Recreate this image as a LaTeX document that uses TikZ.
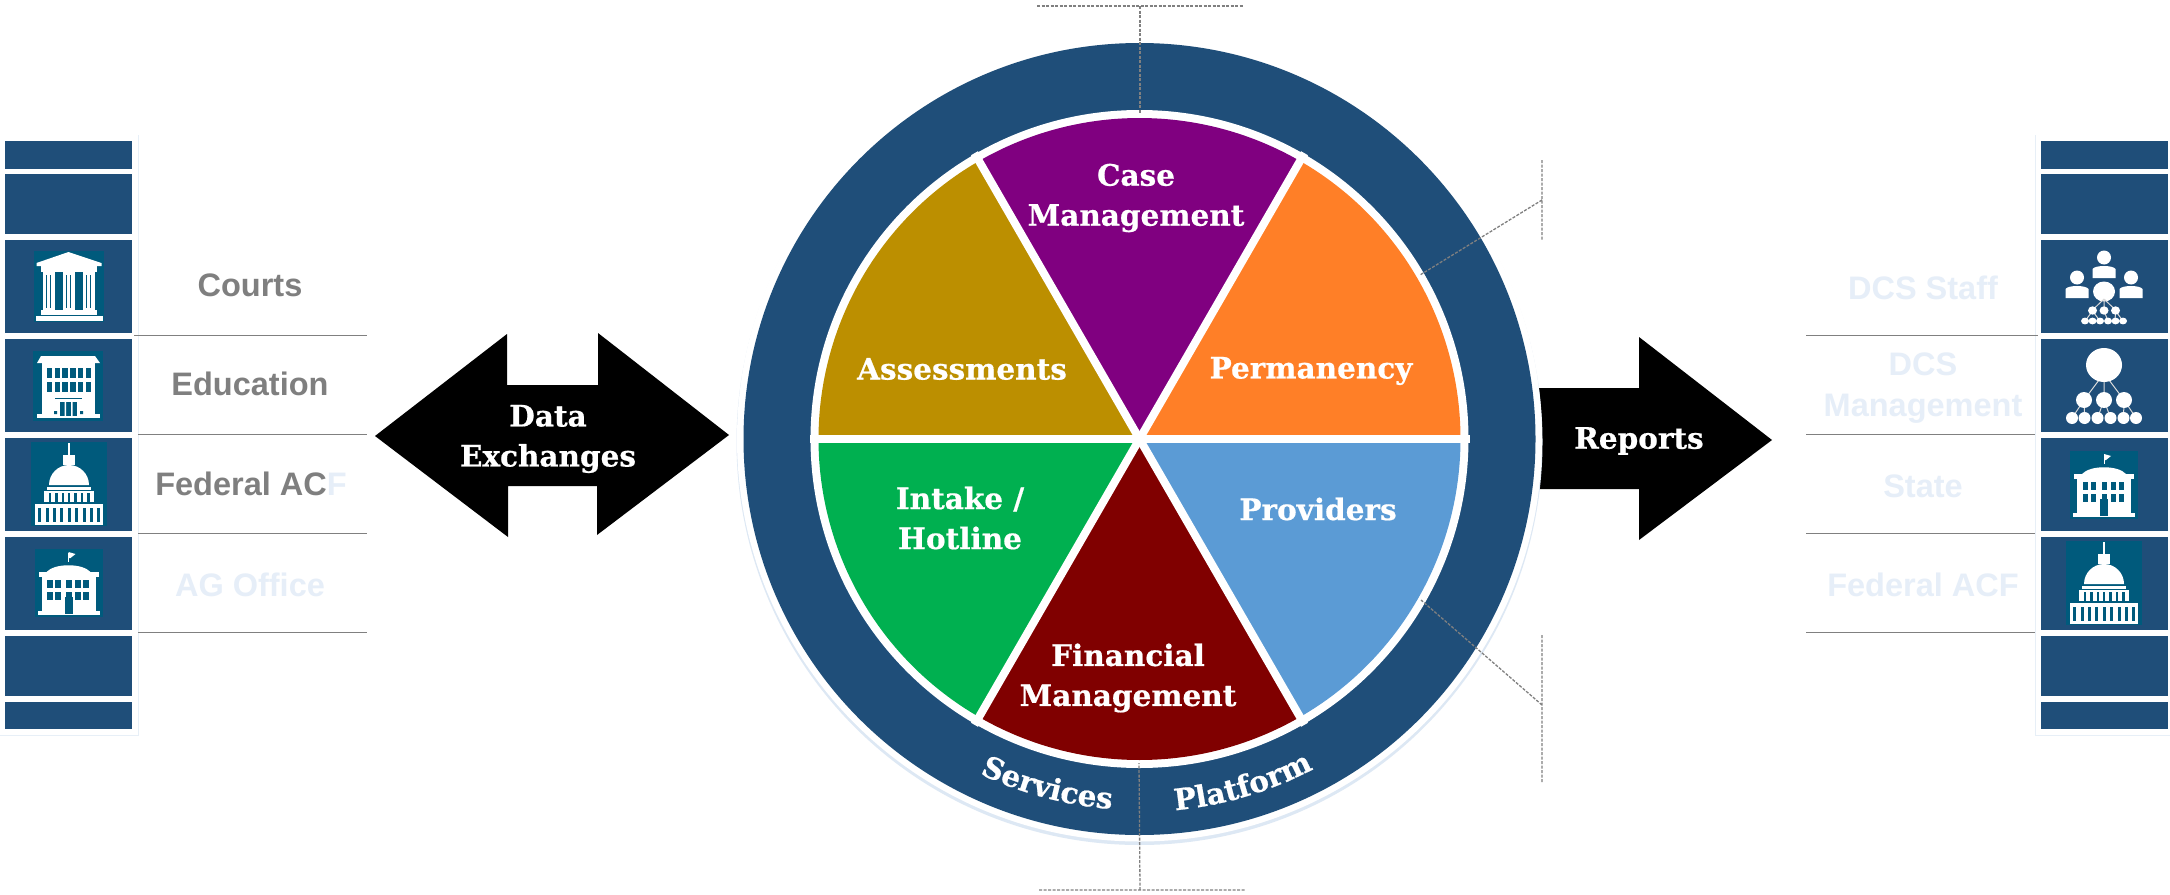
\documentclass[tikz,border=0pt]{standalone}
\usepackage{fontspec}
\setmainfont{Liberation Sans}
\newfontfamily\slab{DejaVu Serif}[BoldFeatures={FakeBold=0.6}]
\usetikzlibrary{decorations.text,calc}
\definecolor{ringblue}{HTML}{1F4E79}
\definecolor{teal}{HTML}{005A7C}
\definecolor{halo}{HTML}{DDE8F4}
\definecolor{labgrey}{HTML}{7F7F7F}
\definecolor{pale}{HTML}{E6EEF8}
\definecolor{linegrey}{HTML}{808080}
\definecolor{cpurple}{HTML}{800080}
\definecolor{corange}{HTML}{FF7F27}
\definecolor{cgold}{HTML}{BC8F00}
\definecolor{cgreen}{HTML}{00B050}
\definecolor{cmaroon}{HTML}{800000}
\definecolor{cblue}{HTML}{5B9BD5}
\tikzset{
  bar/.style={fill=ringblue,draw=none},
  rule/.style={draw=linegrey,line width=1pt},
  lab/.style={font=\fontsize{32.5}{41}\selectfont\bfseries,text=labgrey,inner sep=0pt,align=center},
  plab/.style={lab,text=pale},
  slabtxt/.style={font=\slab\fontsize{29.5}{40}\selectfont\bfseries,text=white,inner sep=0pt,align=center},
  dotline/.style={draw=linegrey,line width=1.3pt,dash pattern=on 3pt off 1.5pt},
  wg/.style={fill=white,draw=none},
  tg/.style={fill=teal,draw=none},
  link/.style={draw=white!85!black,line width=1pt},
}
\newcommand{\iconCourt}{%
  \fill[tg] (-35,-35) rectangle (35,36);
  \fill[wg] (-32,-23)--(0,-34)--(33,-23)--(33,-20)--(-32,-20)--cycle;
  \fill[wg] (-28,-20) rectangle (28,-14);
  \foreach \c in {-20,0,20}{
    \fill[wg] (\c-6,-15) rectangle (\c+6,24);
    \draw[teal,line width=1pt] (\c-2,-11)--(\c-2,22) (\c+2,-11)--(\c+2,22);
  }
  \fill[wg] (-28,24) rectangle (28,29);
  \fill[wg] (-33,30) rectangle (34,35);
}
\newcommand{\iconSchool}{%
  \fill[tg] (-35,-35) rectangle (35,35);
  \fill[wg] (-27,-30)--(27,-30)--(32,-23)--(-31,-23)--cycle;
  \fill[wg] (-26,-23) rectangle (27,29);
  \fill[wg] (-31,28) rectangle (32,32);
  \foreach \i in {0,...,5}{
    \fill[tg] (-21+7.7*\i,-18) rectangle ++(5.4,10);
    \fill[tg] (-21+7.7*\i,-4) rectangle ++(5.4,10);
  }
  \fill[tg] (-13,12) rectangle (14,13);
  \fill[tg] (-8,16) rectangle (9,30);
  \fill[wg] (-3.5,16) rectangle (-2,30) (3,16) rectangle (4.5,30);
  \fill[tg] (-14,25) rectangle (-11,28) (12,25) rectangle (15,28);
}
\newcommand{\iconCapitol}{%
  \fill[tg] (-38,-42) rectangle (38,42);
  \fill[wg] (-1,-41) rectangle (1,-29);
  \fill[wg] (-6,-29) rectangle (6,-19);
  \fill[wg] (-20,1) arc (180:360:20 and 20) -- cycle;
  \fill[wg] (-22,3) rectangle (22,6);
  \fill[wg] (-25,7) rectangle (25,18);
  \foreach \i in {-3,...,3} \fill[tg] (\i*6.4-1,9) rectangle ++(2.4,9);
  \fill[wg] (-34,20) rectangle (34,41);
  \foreach \i in {-4,...,4} \fill[tg] (\i*7.4-1.2,24) rectangle ++(3,14);
}
\newcommand{\iconState}{%
  \fill[tg] (-34,-34) rectangle (34,34);
  \draw[white,line width=1pt] (0,-30)--(0,-21);
  \fill[wg] (0,-31)--(7,-29)--(2,-25)--(0,-25)--cycle;
  \fill[wg] (-22,-11) .. controls (-14,-20) and (14,-20) .. (22,-11) -- cycle;
  \fill[wg] (-30,-11) rectangle (30,-6);
  \fill[wg] (-27,-6) rectangle (27,28);
  \fill[wg] (-31,28) rectangle (31,32);
  \foreach \x in {-21.5,-13.5,-2.5,6.5,14.5}{
    \fill[tg] (\x,-3) rectangle ++(5.5,8);
    \fill[tg] (\x,9) rectangle ++(5.5,8);
  }
  \fill[tg] (-4,14) rectangle (4,31);
}
\newcommand{\iconPeople}{%
  \foreach \x/\y in {0/0,-27/20,27/20}{
    \fill[wg] (\x,-29.5+\y) circle (7);
    \fill[wg] (\x-11.5,-9+\y) -- (\x-11.5,-18+\y) .. controls (\x-9,-22+\y) and (\x+9,-22+\y) .. (\x+11.5,-18+\y) -- (\x+11.5,-9+\y) -- cycle;
  }
  \fill[wg] (0,4.5) ellipse (11 and 10);
  \draw[link] (0,12)--(-11.5,23) (0,12)--(0,23) (0,12)--(11.5,23);
  \draw[link] (-11.5,24)--(-19,34) (-11.5,24)--(-4,34) (0,24)--(4,34) (11.5,24)--(11,34) (11.5,24)--(19,34);
  \foreach \x in {-11.5,0,11.5} \fill[wg] (\x,23.5) ellipse (4.5 and 4.2);
  \foreach \x in {-19,-11.5,-4,4,11.5,19} \fill[wg] (\x,34) ellipse (4 and 3.4);
}
\newcommand{\iconOrg}{%
  \draw[link] (-2,-10)--(-20,14) (0,-10)--(0,14) (2,-10)--(20,14);
  \draw[link] (-20,14)--(-32,32) (-20,14)--(-19.5,32) (0,14)--(-6.5,32) (0,14)--(6.5,32) (20,14)--(19.5,32) (20,14)--(32,32);
  \fill[wg] (0,-21) ellipse (18 and 17);
  \foreach \x in {-20,0,20} \fill[wg] (\x,14) ellipse (8 and 8);
  \foreach \x in {-32,-19.5,-6.5,6.5,19.5,32} \fill[wg] (\x,32) ellipse (6 and 6);
}
\newcommand{\barcol}[1]{%
  \fill[bar] (#1,141) rectangle ++(127,28);
  \fill[bar] (#1,174) rectangle ++(127,60);
  \fill[bar] (#1,240) rectangle ++(127,93);
  \fill[bar] (#1,339) rectangle ++(127,93);
  \fill[bar] (#1,438) rectangle ++(127,93);
  \fill[bar] (#1,537) rectangle ++(127,93);
  \fill[bar] (#1,636) rectangle ++(127,60);
  \fill[bar] (#1,702) rectangle ++(127,27);
}
\begin{document}
\begin{tikzpicture}[x=1pt,y=-1pt]
\useasboundingbox (0,0) rectangle (2170,894);
\fill[white] (0,0) rectangle (2170,894);
% side columns
\draw[halo!70,line width=1pt] (138,135)--(138,735)--(0,735);
\draw[halo!70,line width=1pt] (2035,135)--(2035,735)--(2170,735);
\barcol{5}
\barcol{2041}
% rules
\draw[rule] (134,335)--(367,335);
\draw[rule] (138,434)--(367,434);
\draw[rule] (138,533)--(367,533);
\draw[rule] (138,632)--(367,632);
\draw[rule] (1806,335)--(2038,335);
\draw[rule] (1806,434)--(2035,434);
\draw[rule] (1806,533)--(2035,533);
\draw[rule] (1806,632)--(2035,632);
% icons
\begin{scope}[shift={(68.5,286)}]\iconCourt\end{scope}
\begin{scope}[shift={(68,386)}]\iconSchool\end{scope}
\begin{scope}[shift={(69,484)}]\iconCapitol\end{scope}
\begin{scope}[shift={(68.5,583)}]\iconState\end{scope}
\begin{scope}[shift={(2104,287)}]\iconPeople\end{scope}
\begin{scope}[shift={(2104,386)}]\iconOrg\end{scope}
\begin{scope}[shift={(2104,485)}]\iconState\end{scope}
\begin{scope}[shift={(2104,583)}]\iconCapitol\end{scope}
% side labels
\node[lab] (courts) at (250,285) {Courts};
\node[lab] (edu) at (250,384) {Education};
\node[lab] (fed) at (251,484) {Federal AC\textcolor{pale}{F}};
\node[plab] (ag) at (250,585) {AG Office};
\node[plab] (dcs) at (1923,288) {DCS Staff};
\node[plab] (dcsm) at (1923,388.5) {DCS\\Management};
\node[plab] (state) at (1923,486) {State};
\node[plab] (acf) at (1923,585) {Federal ACF};
% arrows
\fill[black] (375,436)--(507,334)--(507,385)--(598,385)--(598,333)--(729,435)--(597,535)--(597,486)--(508,486)--(508,537)--cycle;
\fill[black] (1500,388)--(1639,388)--(1639,337)--(1772,440)--(1639,540)--(1639,489)--(1500,489)--cycle;
% circle
\coordinate (c) at (1139.5,439);
\fill[halo] ($(c)+(0,3)$) circle (403);
\fill[white] (c) circle (402.5);
\fill[ringblue] (c) circle (396);
\fill[white] (c) circle (329);
\fill[cblue] (c) -- ++(0:321) arc (0:60:321) -- cycle;
\fill[cmaroon] (c) -- ++(60:321) arc (60:120:321) -- cycle;
\fill[cgreen] (c) -- ++(120:321) arc (120:180:321) -- cycle;
\fill[cgold] (c) -- ++(180:321) arc (180:240:321) -- cycle;
\fill[cpurple] (c) -- ++(240:321) arc (240:300:321) -- cycle;
\fill[corange] (c) -- ++(300:321) arc (300:360:321) -- cycle;
\foreach \a in {0,60,...,300} \draw[white,line width=8pt] (c) -- ++(\a:330);
% sector labels
\node[slabtxt] (case) at (1136,198) {Case\\Management};
\node[slabtxt] (assess) at (962,369) {Assessments};
\node[slabtxt] (perm) at (1311,371) {Permanency};
\node[slabtxt] (intake) at (960,518) {Intake /\\Hotline};
\node[slabtxt] (prov) at (1318,509) {Providers};
\node[slabtxt] (fin) at (1128,678) {Financial\\Management};
\node[slabtxt] (data) at (548,439) {Data\\Exchanges};
\node[slabtxt] (rep) at (1639,441) {Reports};
% curved ring text
\path[decorate,decoration={text along path,text align=left,text={|\slab\fontsize{29.5}{30}\selectfont\bfseries\color{white}|Services}}]
  ($(c)+(115.5:371)$) arc (115.5:60:371);
\path[decorate,decoration={text along path,text align=left,text={|\slab\fontsize{29.5}{30}\selectfont\bfseries\color{white}|Platform}}]
  ($(c)+(84.5:373)$) arc (84.5:40:373);
% dotted leaders
\coordinate (tl) at (1037,6); \coordinate (tr) at (1244,6); \coordinate (tm) at (1140,6); \coordinate (te) at (1140,113);
\draw[dotline] (tl)--(tr) (tm)--(te);
\coordinate (bl) at (1039,890); \coordinate (br) at (1245,890); \coordinate (bm) at (1140,890); \coordinate (be) at (1139,763);
\draw[dotline] (bl)--(br) (bm)--(be);
\coordinate (ua) at (1542,160); \coordinate (ub) at (1542,240); \coordinate (um) at (1542,200); \coordinate (ue) at (1420,275);
\draw[dotline] (ua)--(ub) (um)--(ue);
\coordinate (la) at (1542,635); \coordinate (lb) at (1542,782); \coordinate (lm) at (1542,705); \coordinate (le) at (1421,600);
\draw[dotline] (la)--(lb) (lm)--(le);
\end{tikzpicture}
\end{document}
